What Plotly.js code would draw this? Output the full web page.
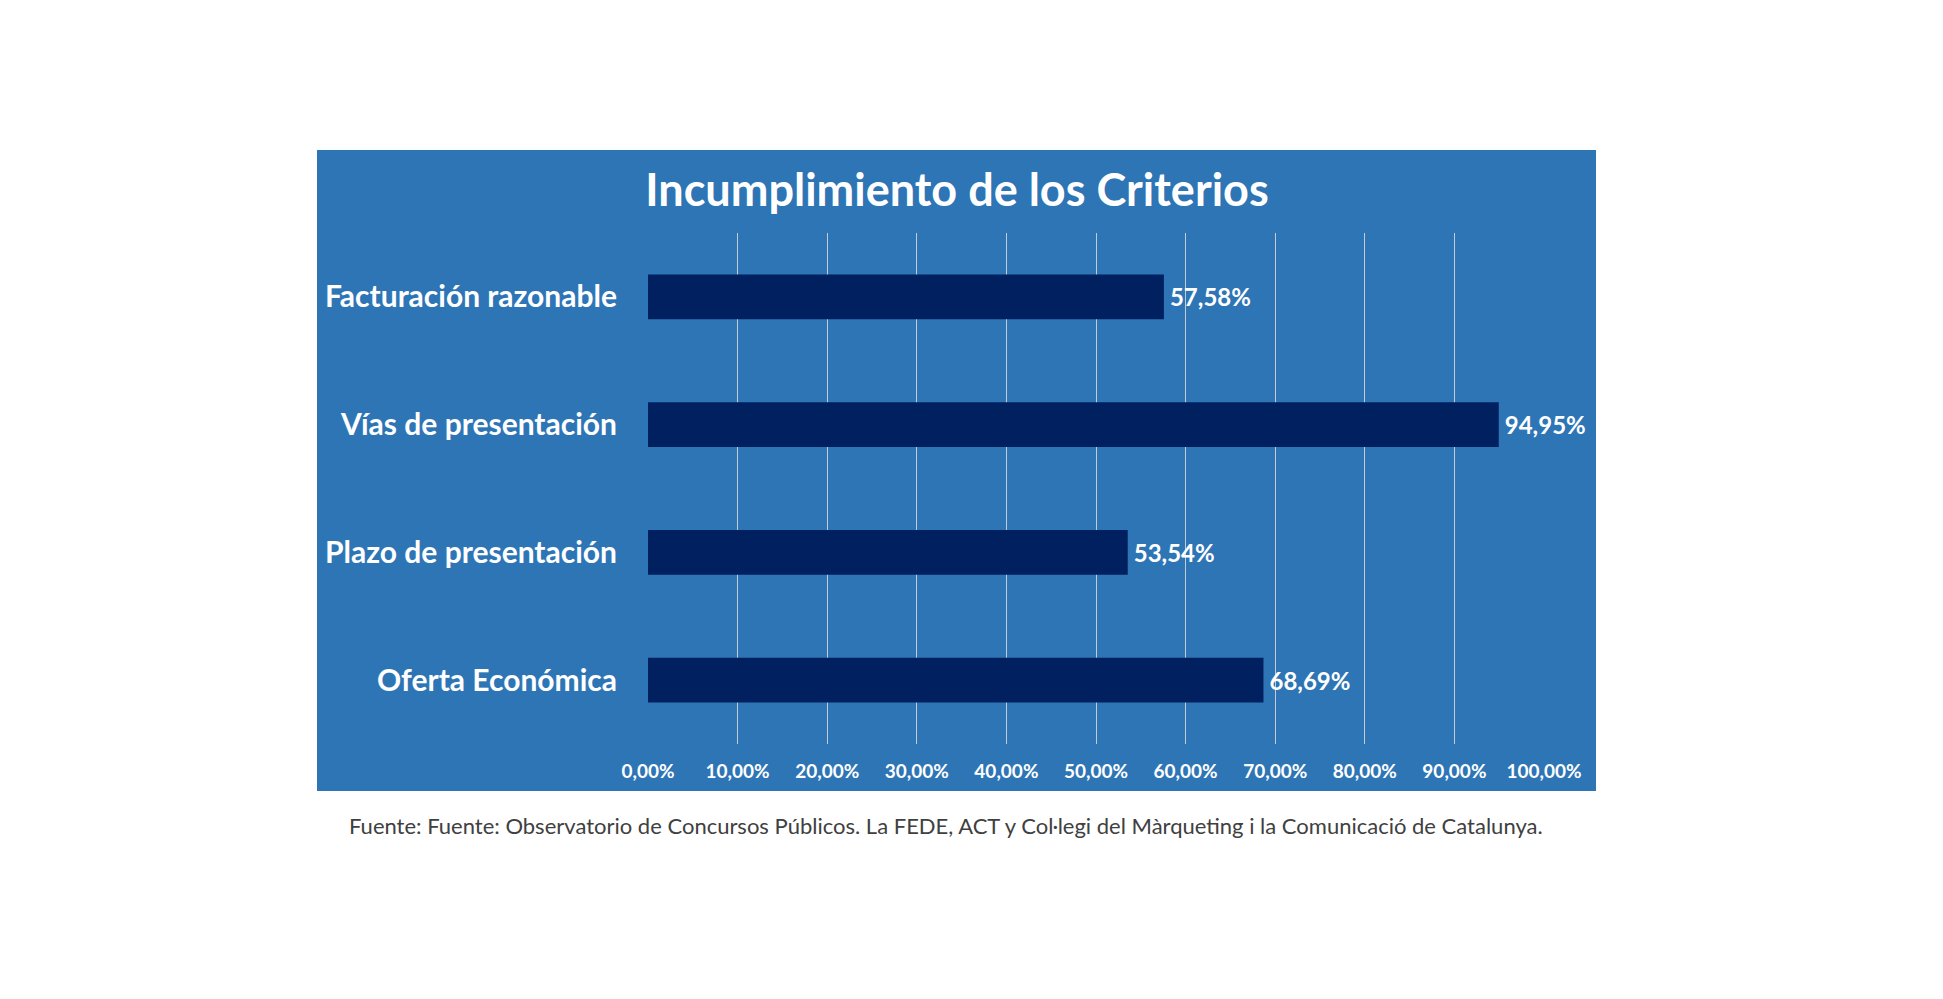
<!DOCTYPE html>
<html>
<head>
<meta charset="utf-8">
<script src="https://cdn.plot.ly/plotly-3.0.1.min.js"></script>
<style>html,body{margin:0;padding:0;background:#fff;}#chart{width:1943px;height:999px;}</style>
</head>
<body>
<div id="chart"></div>
<script>
const categories = ["Facturación razonable", "Vías de presentación", "Plazo de presentación", "Oferta Económica"];
const values = [0.5758, 0.9495, 0.5354, 0.6869];
const tickValues = [0, 0.1, 0.2, 0.3, 0.4, 0.5, 0.6, 0.7, 0.8, 0.9, 1.0];
const chartTitle = "Incumplimiento de los Criterios";
const sourceNote = "Fuente: Fuente: Observatorio de Concursos Públicos. La FEDE, ACT y Col·legi del Màrqueting i la Comunicació de Catalunya.";

const FONT = "Lato, 'Open Sans', sans-serif";
const L = 648, R = 1544, T = 233, B = 744;
const W = 1943, H = 999;
const pw = R - L, ph = B - T;
const panel = {x0: 317, x1: 1596, y0: 150, y1: 791};

const trace = {
  type: "bar",
  orientation: "h",
  y: categories,
  x: values,
  width: 0.35,
  marker: {color: "#002060"},
  text: values,
  texttemplate: "\u2009%{x:.2%}",
  textposition: "outside",
  cliponaxis: false,
  textfont: {family: FONT, size: 24, color: "#ffffff", weight: "bold"},
  hoverinfo: "skip"
};

const layout = {
  width: W, height: H,
  separators: ",.",
  margin: {l: L, r: W - R, t: T, b: H - B, pad: 0},
  paper_bgcolor: "#ffffff",
  plot_bgcolor: "rgba(0,0,0,0)",
  showlegend: false,
  font: {family: FONT, color: "#ffffff"},
  title: {
    text: "<b>" + chartTitle + "</b>",
    font: {family: FONT, size: 45, color: "#ffffff"},
    x: 957 / W, xref: "container", xanchor: "center",
    y: 1 - 190 / H, yref: "container", yanchor: "middle"
  },
  xaxis: {
    range: [0, 1.0],
    tickvals: tickValues,
    tickformat: ".2%",
    showgrid: true,
    gridcolor: "rgba(220,220,220,0.85)",
    gridwidth: 1,
    zeroline: false,
    showline: false,
    ticks: "outside", ticklen: 10, tickcolor: "rgba(0,0,0,0)",
    tickfont: {family: FONT, size: 19, color: "#ffffff", weight: "bold"},
    fixedrange: true
  },
  yaxis: {
    type: "category",
    autorange: "reversed",
    showgrid: false,
    zeroline: false,
    showline: false,
    ticks: "outside", ticklen: 24, tickcolor: "rgba(0,0,0,0)",
    tickfont: {family: FONT, size: 30, color: "#ffffff", weight: "bold"},
    fixedrange: true
  },
  shapes: [{
    type: "rect", layer: "below",
    xref: "paper", yref: "paper",
    x0: (panel.x0 - L) / pw, x1: (panel.x1 - L) / pw,
    y0: (B - panel.y1) / ph, y1: (B - panel.y0) / ph,
    fillcolor: "#2E75B6", line: {width: 0}
  }],
  annotations: [{
    text: sourceNote,
    xref: "paper", yref: "paper",
    x: (946 - L) / pw, y: (B - 826) / ph,
    xanchor: "center", yanchor: "middle",
    showarrow: false,
    font: {family: FONT, size: 22, color: "#404040"}
  }]
};

Plotly.newPlot("chart", [trace], layout, {displayModeBar: false, staticPlot: true});
</script>
</body>
</html>
